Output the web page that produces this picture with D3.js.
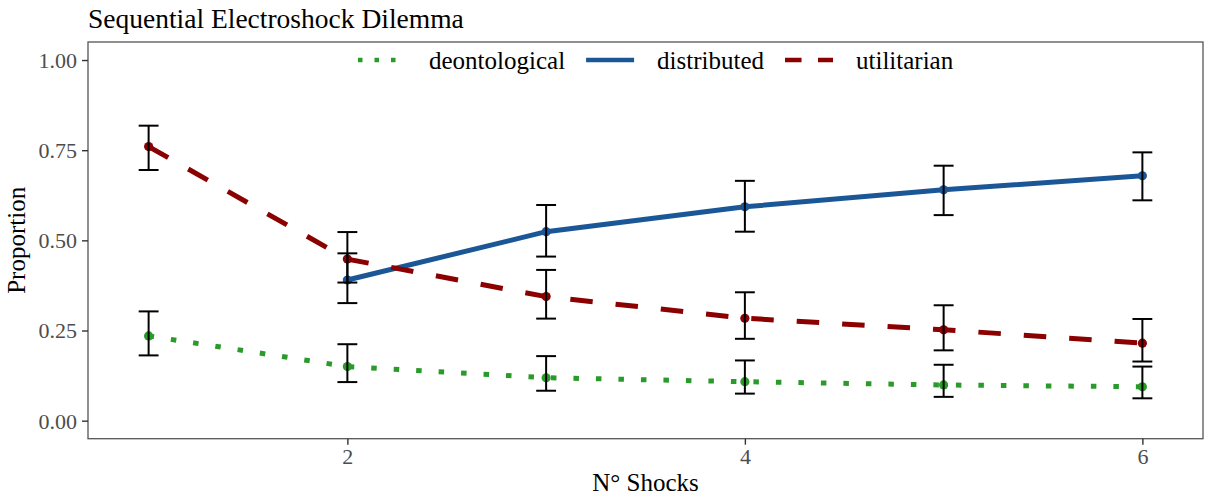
<!DOCTYPE html>
<html>
<head>
<meta charset="utf-8">
<script src="https://cdn.jsdelivr.net/npm/d3@7"></script>
<style>
  body { margin: 0; background: #fff; }
  text { font-family: "Liberation Serif", "Times New Roman", serif; }
</style>
</head>
<body>
<div id="chart"></div>
<script>
// data
var shocks = [1, 2, 3, 4, 5, 6];
var seriesNames = ["deontological", "distributed", "utilitarian"];

var deontological = [0.235, 0.150, 0.119, 0.108, 0.099, 0.094];
var deontLow      = [0.181, 0.107, 0.083, 0.075, 0.066, 0.062];
var deontHigh     = [0.303, 0.212, 0.179, 0.167, 0.155, 0.150];

var distributed = [null, 0.390, 0.524, 0.593, 0.640, 0.679];
var distLow     = [null, 0.326, 0.455, 0.524, 0.570, 0.611];
var distHigh    = [null, 0.464, 0.598, 0.665, 0.707, 0.744];

var utilitarian = [0.760, 0.448, 0.344, 0.284, 0.252, 0.215];
var utilLow     = [0.695, 0.383, 0.283, 0.227, 0.195, 0.164];
var utilHigh    = [0.818, 0.523, 0.418, 0.356, 0.320, 0.282];

var xTicks = [2, 4, 6];
var yTicks = [0, 0.25, 0.5, 0.75, 1];

var colors = {deontological: "#2a9a2a", distributed: "#1b5796", utilitarian: "#8b0000"};

var width = 1205,
    height = 497;
var panel = {left: 88, top: 42, right: 1203, bottom: 438.7};

var svg = d3.select("#chart")
    .append("svg")
        .attr("width", width)
        .attr("height", height);

// ggplot-ish expanded limits (errorbar width 0.1 + 5% expansion)
var x = d3.scaleLinear().domain([0.695, 6.305]).range([panel.left, panel.right]);
var y = d3.scaleLinear().domain([-0.05, 1.05]).range([panel.bottom, panel.top]);

// build the rows
var series = [
    {name: "deontological", vals: deontological, lo: deontLow, hi: deontHigh, dash: "5.5,17", key: "4.5,12"},
    {name: "distributed",   vals: distributed,   lo: distLow,  hi: distHigh,  dash: null,     key: null},
    {name: "utilitarian",   vals: utilitarian,   lo: utilLow,  hi: utilHigh,  dash: "22.5,23", key: "16.5,16.5"}
];
series.forEach(function(s) {
    s.points = [];
    for (var i = 0; i < shocks.length; i++) {
        if (s.vals[i] == null) continue;
        s.points.push({x: shocks[i], v: s.vals[i], lo: s.lo[i], hi: s.hi[i]});
    }
});

// panel border
svg.append("rect")
    .attr("x", panel.left)
    .attr("y", panel.top)
    .attr("width", panel.right - panel.left)
    .attr("height", panel.bottom - panel.top)
    .attr("fill", "white")
    .attr("stroke", "#555")
    .attr("stroke-width", 1.3);

// lines
var line = d3.line()
    .x(d => x(d.x))
    .y(d => y(d.v));

series.forEach(function(s) {
    svg.append("path")
        .datum(s.points)
        .attr("d", line)
        .attr("fill", "none")
        .attr("stroke", colors[s.name])
        .attr("stroke-width", 5)
        .attr("stroke-dasharray", s.dash);
});

// points
series.forEach(function(s) {
    svg.selectAll(null)
        .data(s.points)
        .enter()
        .append("circle")
            .attr("cx", d => x(d.x))
            .attr("cy", d => y(d.v))
            .attr("r", 4.6)
            .attr("fill", colors[s.name]);
});

// error bars
var capHalf = x(1.05) - x(1);
series.forEach(function(s) {
    var g = svg.append("g")
        .attr("stroke", "black")
        .attr("stroke-width", 2)
        .attr("fill", "none");
    s.points.forEach(function(d) {
        var cx = x(d.x);
        g.append("line")
            .attr("x1", cx).attr("x2", cx)
            .attr("y1", y(d.lo)).attr("y2", y(d.hi));
        g.append("line")
            .attr("x1", cx - capHalf).attr("x2", cx + capHalf)
            .attr("y1", y(d.lo)).attr("y2", y(d.lo));
        g.append("line")
            .attr("x1", cx - capHalf).attr("x2", cx + capHalf)
            .attr("y1", y(d.hi)).attr("y2", y(d.hi));
    });
});

// axes
var xAxis = svg.append("g")
    .attr("transform", "translate(0," + panel.bottom + ")")
    .call(d3.axisBottom(x).tickValues(xTicks).tickSize(6).tickPadding(4).tickFormat(d3.format("d")));
var yAxis = svg.append("g")
    .attr("transform", "translate(" + panel.left + ",0)")
    .call(d3.axisLeft(y).tickValues(yTicks).tickSize(6).tickPadding(5).tickFormat(d3.format(".2f")));

[xAxis, yAxis].forEach(function(a) {
    a.select(".domain").remove();
    a.selectAll(".tick line").attr("stroke", "#333").attr("stroke-width", 1.4);
    a.selectAll(".tick text")
        .attr("fill", "#4d4d4d")
        .style("font-family", '"Liberation Serif", "Times New Roman", serif')
        .style("font-size", "22px");
});
yAxis.selectAll(".tick text").attr("dy", "0.34em");

// titles
svg.append("text")
    .attr("x", panel.left)
    .attr("y", 28)
    .style("font-size", "27.5px")
    .attr("fill", "black")
    .text("Sequential Electroshock Dilemma");

svg.append("text")
    .attr("x", (panel.left + panel.right) / 2)
    .attr("y", 491)
    .attr("text-anchor", "middle")
    .style("font-size", "25px")
    .text("N\u00b0 Shocks");

svg.append("text")
    .attr("transform", "translate(25," + (panel.top + panel.bottom) / 2 + ") rotate(-90)")
    .attr("text-anchor", "middle")
    .style("font-size", "25px")
    .text("Proportion");

// legend along the top of the panel
var legendY = 60;
var keyW = 48;
var legend = svg.append("g");
var cursor = 358;
series.forEach(function(s) {
    legend.append("line")
        .attr("x1", cursor).attr("x2", cursor + keyW)
        .attr("y1", legendY).attr("y2", legendY)
        .attr("stroke", colors[s.name])
        .attr("stroke-width", 4.5)
        .attr("stroke-dasharray", s.key);
    var t = legend.append("text")
        .attr("x", cursor + 71)
        .attr("y", legendY + 8.5)
        .style("font-size", "25px")
        .text(s.name);
    cursor = cursor + 71 + t.node().getComputedTextLength() + 21;
});
</script>
</body>
</html>
